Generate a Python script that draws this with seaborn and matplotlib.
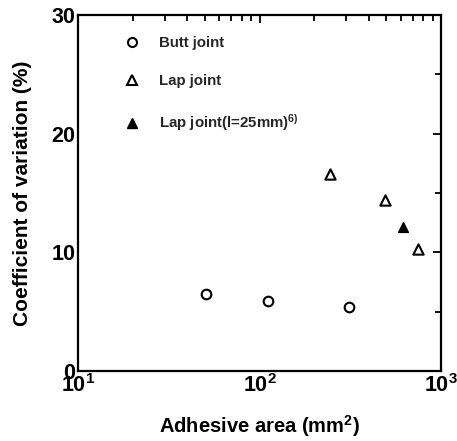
import matplotlib
matplotlib.use("Agg")
import matplotlib.pyplot as plt
from matplotlib.lines import Line2D
from matplotlib.ticker import LogLocator, MultipleLocator, NullFormatter
import seaborn as sns
import pandas as pd

# Butt joints
butt_area = [50.5, 112, 310]
butt_cv = [6.5, 5.9, 5.4]
# Lap joints
lap_area = [244, 491, 747]
lap_cv = [16.6, 14.4, 10.3]
# Lap joint, l = 25 mm (ref. 6)
lap25_area = [617]
lap25_cv = [12.1]

labels = ["Butt joint", "Lap joint", "Lap joint(l=25mm)$^{6)}$"]

sns.set_theme(style="white")
plt.rcParams["font.family"] = ["Liberation Sans", "DejaVu Sans"]
plt.rcParams["font.weight"] = "bold"
plt.rcParams["axes.labelweight"] = "bold"
plt.rcParams["mathtext.default"] = "bf"
plt.rcParams["mathtext.fontset"] = "custom"
plt.rcParams["mathtext.rm"] = "Liberation Sans"
plt.rcParams["mathtext.bf"] = "Liberation Sans:bold"

fig = plt.figure(figsize=(4.57, 4.41), dpi=100)
ax = fig.add_axes([78 / 457, 1 - 371 / 441, (441 - 78) / 457, (371 - 15) / 441])

df_butt = pd.DataFrame({"area": butt_area, "cv": butt_cv})
df_lap = pd.DataFrame({"area": lap_area, "cv": lap_cv})
df_lap25 = pd.DataFrame({"area": lap25_area, "cv": lap25_cv})

sns.scatterplot(data=df_butt, x="area", y="cv", ax=ax, marker="o", s=48,
                facecolor="white", edgecolor="black", linewidth=1.5, zorder=3)
sns.scatterplot(data=df_lap, x="area", y="cv", ax=ax, marker="^", s=55,
                facecolor="white", edgecolor="black", linewidth=1.5, zorder=3)
sns.scatterplot(data=df_lap25, x="area", y="cv", ax=ax, marker="^", s=50,
                facecolor="black", edgecolor="black", linewidth=1.0, zorder=3)

ax.set_xscale("log")
ax.set_xlim(10, 1000)
ax.set_ylim(0, 30)
ax.yaxis.set_major_locator(MultipleLocator(10))
ax.yaxis.set_minor_locator(MultipleLocator(5))
ax.xaxis.set_major_locator(LogLocator(base=10))
ax.xaxis.set_minor_locator(LogLocator(base=10, subs=range(2, 10)))
ax.xaxis.set_minor_formatter(NullFormatter())

for s in ax.spines.values():
    s.set_linewidth(1.6)
    s.set_color("black")

ax.tick_params(which="both", direction="in", top=True, right=True,
               color="black", width=1.3)
ax.tick_params(which="major", length=6, labelsize=15.5, pad=2, labelcolor="black")
ax.tick_params(which="minor", length=4)

ax.set_xlabel("Adhesive area (mm$^2$)", fontsize=14.5, labelpad=12, color="black")
ax.set_ylabel("Coefficient of variation (%)", fontsize=15, labelpad=14, color="black")

handles = [
    Line2D([], [], linestyle="none", marker="o", markersize=6.5,
           markerfacecolor="white", markeredgecolor="black", markeredgewidth=1.5),
    Line2D([], [], linestyle="none", marker="^", markersize=6.5,
           markerfacecolor="white", markeredgecolor="black", markeredgewidth=1.5),
    Line2D([], [], linestyle="none", marker="^", markersize=6.5,
           markerfacecolor="black", markeredgecolor="black"),
]
ax.legend(handles, labels, loc="upper left", bbox_to_anchor=(0.09, 0.978),
          frameon=False, fontsize=10.8, labelspacing=1.6, handletextpad=1.3,
          handlelength=1.0)

fig.savefig("out.png", dpi=100)
